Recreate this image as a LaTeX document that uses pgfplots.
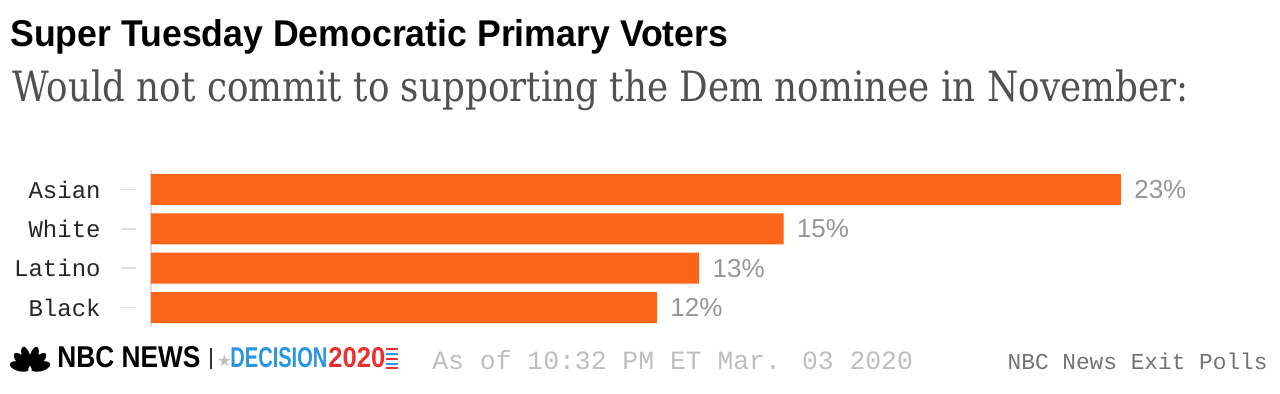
\documentclass[border=0pt]{standalone}
\usepackage{pgfplots}
\pgfplotsset{compat=1.18}
\usepackage{fontspec}
\usepackage{graphicx}
\setmainfont{Liberation Sans}
\newfontfamily\monof{Liberation Mono}
\newfontfamily\sansf{Liberation Sans}
\newfontfamily\seriff{DejaVu Serif}
\newfontfamily\symf{DejaVu Sans}
\definecolor{barc}{RGB}{251,101,26}
\definecolor{subc}{RGB}{80,80,80}
\definecolor{valc}{RGB}{150,150,150}
\definecolor{datec}{RGB}{190,190,190}
\definecolor{srcc}{RGB}{115,115,115}
\definecolor{decb}{RGB}{40,150,225}
\definecolor{decr}{RGB}{232,50,50}
\begin{document}
\begin{tikzpicture}
% title and subtitle
\node[anchor=base west, inner sep=0pt] at (5pt,-23.35pt) {\resizebox{359pt}{13.5pt}{\sansf\bfseries Super Tuesday Democratic Primary Voters}};
\node[anchor=base west, inner sep=0pt, text=subc] at (6pt,-50.85pt) {\resizebox{588pt}{15.85pt}{\seriff Would not commit to supporting the Dem nominee in November:}};
\begin{axis}[
  at={(75.5pt,-163.6pt)}, anchor=south west,
  scale only axis, width=569.3pt, height=78.7pt,
  xmin=0, xmax=27, ymin=0.5, ymax=4.5, y dir=reverse,
  xbar, bar width=15.5pt,
  axis y line*=left, axis x line=none,
  y axis line style={-, draw=black!13, line width=1pt},
  ytick={1,2,3,4},
  yticklabels={Asian,White,Latino,Black},
  tick align=outside, major tick length=7.5pt,
  y tick style={draw=black!12, line width=0.8pt, xshift=-7.5pt},
  yticklabel style={anchor=east, inner sep=0pt, xshift=-17.5pt, text=black!85, font=\monof\fontsize{12}{12}\selectfont},
  point meta=x,
  nodes near coords={\pgfmathprintnumber[assume math mode=true]{\pgfplotspointmeta}\%},
  every node near coord/.style={anchor=west, inner sep=0pt, xshift=6.5pt, text=valc, font=\sansf\fontsize{13}{13}\selectfont},
  clip=false,
]
\addplot[draw=none, fill=barc] coordinates {(23,1) (15,2) (13,3) (12,4)};
\end{axis}
% footer logo
\begin{scope}[shift={(15pt,-184.5pt)}, yscale=1.15]
\foreach \a in {12,40,70,110,140,168} {
  \fill[black, rotate=\a] (5.3pt,0) ellipse (5pt and 2.1pt);
}
\fill[white] (-1pt,-0.3pt) -- (1pt,-0.3pt) -- (0,1.5pt) -- cycle;
\end{scope}
\node[anchor=base west, inner sep=0pt] at (28.5pt,-184pt) {\resizebox{71.5pt}{10.5pt}{\sansf\bfseries NBC NEWS}};
\draw[black!80, line width=0.7pt] (105.5pt,-174pt) -- (105.5pt,-184.5pt);
\node[anchor=base west, inner sep=0pt, text=black!25] at (108.5pt,-183.5pt) {\symf\fontsize{8}{8}\selectfont ★};
\node[anchor=base west, inner sep=0pt, text=decb] at (115pt,-184pt) {\resizebox{48.5pt}{10pt}{\sansf\bfseries DECISION}};
\node[anchor=base west, inner sep=0pt, text=decr] at (164pt,-184pt) {\resizebox{28.5pt}{10pt}{\sansf\bfseries 2020}};
\foreach \yy/\cc in {174.5/decr,177/decb,179.5/decr,182/decb,184/decr} {
  \draw[\cc, line width=0.8pt] (193pt,-\yy pt) -- (199pt,-\yy pt);
}
\node[anchor=base west, inner sep=0pt, text=datec] at (216pt,-185pt) {\monof\fontsize{13.2}{13.2}\selectfont As of 10:32 PM ET Mar. 03 2020};
\node[anchor=base east, inner sep=0pt, text=srcc] at (634pt,-185pt) {\monof\fontsize{11.4}{11.4}\selectfont NBC News Exit Polls};
\pgfresetboundingbox
\path (0,0) rectangle (640pt,-197pt);
\end{tikzpicture}
\end{document}
